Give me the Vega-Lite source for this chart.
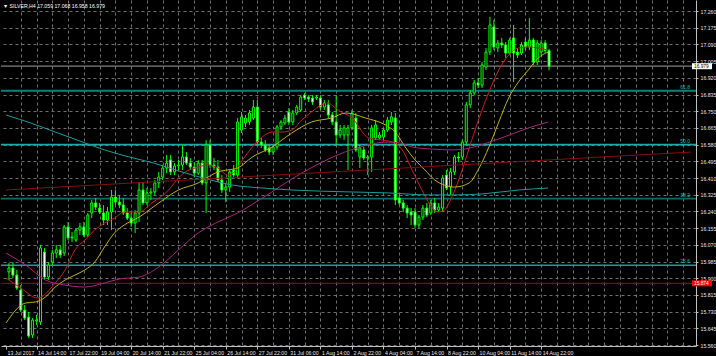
{
  "$schema": "https://vega.github.io/schema/vega-lite/v6.json",
  "width": 695,
  "height": 346,
  "padding": 0,
  "background": "#000000",
  "config": {"view": {"stroke": null}, "font": "Liberation Sans"},
  "title": {"text": "▼ SILVER,H4  17.059 17.068 16.958 16.979", "anchor": "start", "offset": -9, "fontSize": 5.2, "color": "#ffffff", "fontWeight": "normal", "dx": 3},
  "datasets": {
    "candles": [
      {"i":0,"o":15.932,"h":15.977,"l":15.891,"c":15.952},
      {"i":1,"o":15.952,"h":15.982,"l":15.901,"c":15.916},
      {"i":2,"o":15.916,"h":15.942,"l":15.840,"c":15.850},
      {"i":3,"o":15.840,"h":15.865,"l":15.728,"c":15.738},
      {"i":4,"o":15.738,"h":15.764,"l":15.687,"c":15.697},
      {"i":5,"o":15.702,"h":15.728,"l":15.596,"c":15.606},
      {"i":6,"o":15.611,"h":15.697,"l":15.596,"c":15.687},
      {"i":7,"o":15.682,"h":15.713,"l":15.662,"c":15.687},
      {"i":8,"o":15.677,"h":16.069,"l":15.662,"c":16.054},
      {"i":9,"o":16.033,"h":16.054,"l":15.891,"c":15.906},
      {"i":10,"o":15.906,"h":15.982,"l":15.891,"c":15.967},
      {"i":11,"o":15.982,"h":16.044,"l":15.967,"c":16.028},
      {"i":12,"o":16.028,"h":16.069,"l":16.003,"c":16.044},
      {"i":13,"o":16.044,"h":16.069,"l":16.003,"c":16.018},
      {"i":14,"o":16.028,"h":16.171,"l":16.013,"c":16.161},
      {"i":15,"o":16.161,"h":16.186,"l":16.094,"c":16.105},
      {"i":16,"o":16.105,"h":16.135,"l":16.084,"c":16.110},
      {"i":17,"o":16.094,"h":16.155,"l":16.084,"c":16.145},
      {"i":18,"o":16.145,"h":16.181,"l":16.120,"c":16.161},
      {"i":19,"o":16.161,"h":16.186,"l":16.110,"c":16.120},
      {"i":20,"o":16.120,"h":16.232,"l":16.110,"c":16.222},
      {"i":21,"o":16.232,"h":16.298,"l":16.206,"c":16.283},
      {"i":22,"o":16.283,"h":16.308,"l":16.247,"c":16.262},
      {"i":23,"o":16.257,"h":16.283,"l":16.227,"c":16.237},
      {"i":24,"o":16.232,"h":16.273,"l":16.171,"c":16.196},
      {"i":25,"o":16.196,"h":16.262,"l":16.171,"c":16.237},
      {"i":26,"o":16.237,"h":16.349,"l":16.145,"c":16.313},
      {"i":27,"o":16.313,"h":16.349,"l":16.273,"c":16.288},
      {"i":28,"o":16.288,"h":16.324,"l":16.257,"c":16.273},
      {"i":29,"o":16.273,"h":16.308,"l":16.222,"c":16.232},
      {"i":30,"o":16.232,"h":16.257,"l":16.196,"c":16.206},
      {"i":31,"o":16.206,"h":16.232,"l":16.161,"c":16.181},
      {"i":32,"o":16.181,"h":16.247,"l":16.130,"c":16.232},
      {"i":33,"o":16.232,"h":16.390,"l":16.186,"c":16.349},
      {"i":34,"o":16.349,"h":16.390,"l":16.273,"c":16.283},
      {"i":35,"o":16.283,"h":16.359,"l":16.273,"c":16.334},
      {"i":36,"o":16.334,"h":16.359,"l":16.298,"c":16.339},
      {"i":37,"o":16.339,"h":16.400,"l":16.324,"c":16.385},
      {"i":38,"o":16.385,"h":16.441,"l":16.359,"c":16.415},
      {"i":39,"o":16.415,"h":16.476,"l":16.400,"c":16.461},
      {"i":40,"o":16.461,"h":16.527,"l":16.435,"c":16.486},
      {"i":41,"o":16.502,"h":16.527,"l":16.425,"c":16.441},
      {"i":42,"o":16.441,"h":16.486,"l":16.425,"c":16.471},
      {"i":43,"o":16.471,"h":16.502,"l":16.451,"c":16.476},
      {"i":44,"o":16.476,"h":16.578,"l":16.451,"c":16.517},
      {"i":45,"o":16.517,"h":16.542,"l":16.476,"c":16.486},
      {"i":46,"o":16.486,"h":16.512,"l":16.451,"c":16.466},
      {"i":47,"o":16.466,"h":16.491,"l":16.415,"c":16.435},
      {"i":48,"o":16.435,"h":16.502,"l":16.425,"c":16.486},
      {"i":49,"o":16.486,"h":16.502,"l":16.374,"c":16.385},
      {"i":50,"o":16.385,"h":16.603,"l":16.232,"c":16.578},
      {"i":51,"o":16.578,"h":16.603,"l":16.461,"c":16.476},
      {"i":52,"o":16.476,"h":16.512,"l":16.451,"c":16.466},
      {"i":53,"o":16.466,"h":16.502,"l":16.390,"c":16.400},
      {"i":54,"o":16.400,"h":16.425,"l":16.334,"c":16.349},
      {"i":55,"o":16.349,"h":16.385,"l":16.288,"c":16.364},
      {"i":56,"o":16.364,"h":16.451,"l":16.339,"c":16.441},
      {"i":57,"o":16.451,"h":16.476,"l":16.415,"c":16.425},
      {"i":58,"o":16.425,"h":16.715,"l":16.410,"c":16.695},
      {"i":59,"o":16.654,"h":16.746,"l":16.639,"c":16.721},
      {"i":60,"o":16.690,"h":16.731,"l":16.670,"c":16.715},
      {"i":61,"o":16.695,"h":16.756,"l":16.680,"c":16.741},
      {"i":62,"o":16.715,"h":16.807,"l":16.705,"c":16.771},
      {"i":63,"o":16.771,"h":16.807,"l":16.578,"c":16.593},
      {"i":64,"o":16.593,"h":16.614,"l":16.563,"c":16.578},
      {"i":65,"o":16.578,"h":16.603,"l":16.542,"c":16.553},
      {"i":66,"o":16.563,"h":16.578,"l":16.527,"c":16.542},
      {"i":67,"o":16.542,"h":16.578,"l":16.527,"c":16.568},
      {"i":68,"o":16.568,"h":16.680,"l":16.553,"c":16.670},
      {"i":69,"o":16.670,"h":16.705,"l":16.654,"c":16.695},
      {"i":70,"o":16.690,"h":16.731,"l":16.680,"c":16.715},
      {"i":71,"o":16.746,"h":16.766,"l":16.680,"c":16.695},
      {"i":72,"o":16.695,"h":16.756,"l":16.680,"c":16.741},
      {"i":73,"o":16.741,"h":16.782,"l":16.731,"c":16.771},
      {"i":74,"o":16.756,"h":16.832,"l":16.746,"c":16.822},
      {"i":75,"o":16.832,"h":16.843,"l":16.807,"c":16.817},
      {"i":76,"o":16.822,"h":16.832,"l":16.797,"c":16.812},
      {"i":77,"o":16.817,"h":16.832,"l":16.782,"c":16.797},
      {"i":78,"o":16.817,"h":16.832,"l":16.807,"c":16.822},
      {"i":79,"o":16.817,"h":16.832,"l":16.756,"c":16.771},
      {"i":80,"o":16.771,"h":16.807,"l":16.756,"c":16.792},
      {"i":81,"o":16.782,"h":16.807,"l":16.715,"c":16.731},
      {"i":82,"o":16.731,"h":16.746,"l":16.680,"c":16.695},
      {"i":83,"o":16.695,"h":16.832,"l":16.578,"c":16.629},
      {"i":84,"o":16.629,"h":16.680,"l":16.614,"c":16.654},
      {"i":85,"o":16.629,"h":16.680,"l":16.603,"c":16.665},
      {"i":86,"o":16.629,"h":16.680,"l":16.451,"c":16.665},
      {"i":87,"o":16.665,"h":16.756,"l":16.654,"c":16.741},
      {"i":88,"o":16.715,"h":16.741,"l":16.542,"c":16.553},
      {"i":89,"o":16.517,"h":16.578,"l":16.461,"c":16.563},
      {"i":90,"o":16.553,"h":16.568,"l":16.502,"c":16.512},
      {"i":91,"o":16.512,"h":16.527,"l":16.425,"c":16.517},
      {"i":92,"o":16.517,"h":16.680,"l":16.441,"c":16.665},
      {"i":93,"o":16.614,"h":16.705,"l":16.603,"c":16.680},
      {"i":94,"o":16.614,"h":16.644,"l":16.603,"c":16.629},
      {"i":95,"o":16.619,"h":16.665,"l":16.603,"c":16.654},
      {"i":96,"o":16.654,"h":16.721,"l":16.644,"c":16.705},
      {"i":97,"o":16.695,"h":16.746,"l":16.680,"c":16.721},
      {"i":98,"o":16.715,"h":16.741,"l":16.273,"c":16.298},
      {"i":99,"o":16.308,"h":16.324,"l":16.273,"c":16.283},
      {"i":100,"o":16.283,"h":16.298,"l":16.237,"c":16.257},
      {"i":101,"o":16.257,"h":16.273,"l":16.206,"c":16.232},
      {"i":102,"o":16.237,"h":16.257,"l":16.171,"c":16.222},
      {"i":103,"o":16.237,"h":16.257,"l":16.155,"c":16.171},
      {"i":104,"o":16.171,"h":16.222,"l":16.155,"c":16.211},
      {"i":105,"o":16.211,"h":16.273,"l":16.196,"c":16.257},
      {"i":106,"o":16.257,"h":16.283,"l":16.211,"c":16.222},
      {"i":107,"o":16.232,"h":16.298,"l":16.222,"c":16.283},
      {"i":108,"o":16.283,"h":16.308,"l":16.232,"c":16.247},
      {"i":109,"o":16.247,"h":16.283,"l":16.237,"c":16.262},
      {"i":110,"o":16.257,"h":16.425,"l":16.237,"c":16.410},
      {"i":111,"o":16.425,"h":16.451,"l":16.349,"c":16.359},
      {"i":112,"o":16.364,"h":16.461,"l":16.324,"c":16.441},
      {"i":113,"o":16.441,"h":16.527,"l":16.425,"c":16.517},
      {"i":114,"o":16.517,"h":16.542,"l":16.491,"c":16.512},
      {"i":115,"o":16.517,"h":16.603,"l":16.502,"c":16.593},
      {"i":116,"o":16.593,"h":16.797,"l":16.578,"c":16.782},
      {"i":117,"o":16.782,"h":16.858,"l":16.766,"c":16.843},
      {"i":118,"o":16.843,"h":16.909,"l":16.832,"c":16.894},
      {"i":119,"o":16.894,"h":16.919,"l":16.868,"c":16.883},
      {"i":120,"o":16.883,"h":17.000,"l":16.868,"c":16.985},
      {"i":121,"o":16.975,"h":17.072,"l":16.960,"c":17.051},
      {"i":122,"o":17.051,"h":17.230,"l":17.036,"c":17.189},
      {"i":123,"o":17.179,"h":17.214,"l":17.061,"c":17.077},
      {"i":124,"o":17.072,"h":17.112,"l":17.051,"c":17.097},
      {"i":125,"o":17.097,"h":17.123,"l":17.072,"c":17.087},
      {"i":126,"o":17.087,"h":17.102,"l":17.021,"c":17.046},
      {"i":127,"o":17.046,"h":17.123,"l":17.036,"c":17.112},
      {"i":128,"o":17.123,"h":17.189,"l":16.899,"c":17.046},
      {"i":129,"o":17.051,"h":17.072,"l":17.021,"c":17.036},
      {"i":130,"o":17.046,"h":17.102,"l":17.036,"c":17.087},
      {"i":131,"o":17.102,"h":17.123,"l":17.061,"c":17.077},
      {"i":132,"o":17.077,"h":17.224,"l":17.061,"c":17.112},
      {"i":133,"o":17.112,"h":17.123,"l":16.985,"c":17.000},
      {"i":134,"o":17.000,"h":17.112,"l":16.985,"c":17.097},
      {"i":135,"o":17.051,"h":17.112,"l":17.036,"c":17.097},
      {"i":136,"o":17.097,"h":17.112,"l":17.046,"c":17.059},
      {"i":137,"o":17.059,"h":17.068,"l":16.958,"c":16.979}
    ],
    "ma": [
      {"s":"fast","i":-0.75,"v":15.901},{"s":"fast","i":3,"v":15.850},{"s":"fast","i":7.25,"v":15.799},{"s":"fast","i":11.75,"v":15.876},
      {"s":"fast","i":14.25,"v":15.942},{"s":"fast","i":16.75,"v":16.044},{"s":"fast","i":19.25,"v":16.094},{"s":"fast","i":21.75,"v":16.145},
      {"s":"fast","i":24.25,"v":16.181},{"s":"fast","i":26.75,"v":16.206},{"s":"fast","i":29.25,"v":16.237},{"s":"fast","i":33,"v":16.237},
      {"s":"fast","i":36.25,"v":16.283},{"s":"fast","i":40.5,"v":16.349},{"s":"fast","i":43,"v":16.410},{"s":"fast","i":44.75,"v":16.441},
      {"s":"fast","i":47.25,"v":16.461},{"s":"fast","i":50.5,"v":16.476},{"s":"fast","i":53,"v":16.461},{"s":"fast","i":55.5,"v":16.425},
      {"s":"fast","i":57.25,"v":16.441},{"s":"fast","i":59.25,"v":16.502},{"s":"fast","i":61.75,"v":16.568},{"s":"fast","i":64.25,"v":16.619},
      {"s":"fast","i":66.75,"v":16.644},{"s":"fast","i":69.25,"v":16.644},{"s":"fast","i":71.75,"v":16.654},{"s":"fast","i":74.25,"v":16.705},
      {"s":"fast","i":76.75,"v":16.746},{"s":"fast","i":79.25,"v":16.782},{"s":"fast","i":81,"v":16.792},{"s":"fast","i":82.5,"v":16.771},
      {"s":"fast","i":84.25,"v":16.746},{"s":"fast","i":86.75,"v":16.721},{"s":"fast","i":91.25,"v":16.614},{"s":"fast","i":94.75,"v":16.603},
      {"s":"fast","i":97.25,"v":16.593},{"s":"fast","i":99.75,"v":16.553},{"s":"fast","i":102.25,"v":16.451},{"s":"fast","i":104.75,"v":16.349},
      {"s":"fast","i":107.25,"v":16.262},{"s":"fast","i":108.75,"v":16.237},{"s":"fast","i":110.5,"v":16.247},{"s":"fast","i":111.75,"v":16.288},
      {"s":"fast","i":114.25,"v":16.410},{"s":"fast","i":116.75,"v":16.563},{"s":"fast","i":119.25,"v":16.715},{"s":"fast","i":121.75,"v":16.848},
      {"s":"fast","i":124.25,"v":16.960},{"s":"fast","i":126.75,"v":17.036},{"s":"fast","i":129.25,"v":17.072},{"s":"fast","i":131.75,"v":17.077},
      {"s":"fast","i":134.25,"v":17.072},{"s":"fast","i":136.75,"v":17.061},

      {"s":"medium","i":-0.75,"v":15.672},{"s":"medium","i":4.25,"v":15.774},{"s":"medium","i":6.75,"v":15.779},{"s":"medium","i":9.25,"v":15.804},
      {"s":"medium","i":11.75,"v":15.855},{"s":"medium","i":14.25,"v":15.891},{"s":"medium","i":16.75,"v":15.916},{"s":"medium","i":19.25,"v":15.942},
      {"s":"medium","i":21.75,"v":15.982},{"s":"medium","i":24.25,"v":16.059},{"s":"medium","i":26.75,"v":16.130},{"s":"medium","i":29.25,"v":16.171},
      {"s":"medium","i":33,"v":16.211},{"s":"medium","i":38,"v":16.283},{"s":"medium","i":43,"v":16.349},{"s":"medium","i":48,"v":16.385},
      {"s":"medium","i":50.5,"v":16.415},{"s":"medium","i":53,"v":16.441},{"s":"medium","i":55.5,"v":16.451},{"s":"medium","i":58,"v":16.461},
      {"s":"medium","i":61.75,"v":16.517},{"s":"medium","i":66.75,"v":16.568},{"s":"medium","i":71.75,"v":16.639},{"s":"medium","i":76.75,"v":16.695},
      {"s":"medium","i":81.75,"v":16.715},{"s":"medium","i":85.5,"v":16.741},{"s":"medium","i":90.5,"v":16.715},{"s":"medium","i":95.5,"v":16.680},
      {"s":"medium","i":98,"v":16.644},{"s":"medium","i":100.5,"v":16.568},{"s":"medium","i":103,"v":16.502},{"s":"medium","i":105.5,"v":16.451},
      {"s":"medium","i":108,"v":16.400},{"s":"medium","i":110.5,"v":16.374},{"s":"medium","i":113,"v":16.364},{"s":"medium","i":116.75,"v":16.385},
      {"s":"medium","i":119.25,"v":16.461},{"s":"medium","i":121.75,"v":16.568},{"s":"medium","i":124.25,"v":16.695},{"s":"medium","i":126.75,"v":16.817},
      {"s":"medium","i":129.25,"v":16.899},{"s":"medium","i":131.75,"v":16.960},{"s":"medium","i":134.25,"v":17.021},{"s":"medium","i":136.75,"v":17.051},

      {"s":"slow","i":-0.75,"v":16.028},{"s":"slow","i":4.25,"v":15.967},{"s":"slow","i":9.25,"v":15.891},{"s":"slow","i":14.25,"v":15.865},
      {"s":"slow","i":19.25,"v":15.855},{"s":"slow","i":24.25,"v":15.876},{"s":"slow","i":28,"v":15.896},{"s":"slow","i":33,"v":15.906},
      {"s":"slow","i":38,"v":15.957},{"s":"slow","i":43,"v":16.044},{"s":"slow","i":48,"v":16.130},{"s":"slow","i":53,"v":16.186},
      {"s":"slow","i":58,"v":16.232},{"s":"slow","i":64.25,"v":16.308},{"s":"slow","i":74.25,"v":16.435},{"s":"slow","i":86.75,"v":16.553},
      {"s":"slow","i":96.25,"v":16.593},{"s":"slow","i":99.25,"v":16.588},{"s":"slow","i":102.25,"v":16.568},{"s":"slow","i":106.75,"v":16.558},
      {"s":"slow","i":113,"v":16.553},{"s":"slow","i":124.25,"v":16.609},{"s":"slow","i":131.75,"v":16.665},{"s":"slow","i":136.75,"v":16.695},

      {"s":"long","i":-0.75,"v":16.731},{"s":"long","i":5.5,"v":16.690},{"s":"long","i":11.75,"v":16.644},{"s":"long","i":18,"v":16.598},
      {"s":"long","i":24.25,"v":16.553},{"s":"long","i":30.5,"v":16.517},{"s":"long","i":36.75,"v":16.486},{"s":"long","i":43,"v":16.446},
      {"s":"long","i":49.25,"v":16.410},{"s":"long","i":56.75,"v":16.374},{"s":"long","i":64.25,"v":16.359},{"s":"long","i":71.75,"v":16.349},
      {"s":"long","i":86.75,"v":16.339},{"s":"long","i":96.25,"v":16.334},{"s":"long","i":106.25,"v":16.324},{"s":"long","i":113,"v":16.324},
      {"s":"long","i":120,"v":16.329},{"s":"long","i":129.25,"v":16.349},{"s":"long","i":136.75,"v":16.359},

      {"s":"trend","i":-0.75,"v":16.349},{"s":"trend","i":173,"v":16.542}
    ],
    "levels": [
      {"name":"61.8","v":16.854},
      {"name":"50.0","v":16.5795},
      {"name":"38.2","v":16.305},
      {"name":"23.6","v":15.966},
      {"name":"bid","v":16.979},
      {"name":"alert","v":15.874}
    ],
    "tags": [
      {"k":"bid","v":16.979,"t":"16.979"},
      {"k":"alert","v":15.874,"t":"15.874"}
    ]
  },
  "resolve": {"scale": {"color": "independent", "strokeWidth": "independent"}},
  "layer": [
    {
      "data": {"name": "levels"},
      "mark": {"type": "rule"},
      "encoding": {
        "y": {
          "field": "v", "type": "quantitative", "title": null,
          "scale": {"domain": [15.555, 17.316], "zero": false, "nice": false},
          "axis": {
            "orient": "right", "title": null, "tickCount": 500,
            "values": [17.26, 17.175, 17.09, 17.005, 16.92, 16.835, 16.75, 16.665, 16.58, 16.495, 16.41, 16.325, 16.24, 16.155, 16.07, 15.985, 15.9, 15.815, 15.73, 15.645, 15.56],
            "format": ".3f", "labelColor": "#e6e6e6", "labelFontSize": 5.2, "labelPadding": 2,
            "labelAlign": "left", "labelBaseline": "middle", "labelOverlap": false, "labelFlush": false, "labelBound": false,
            "tickSize": 2, "tickColor": "#c0c0c0", "domainColor": "#c0c0c0",
            "grid": true, "gridColor": "#6e6e6e", "gridDash": [3, 3], "gridWidth": 1
          }
        },
        "color": {"field": "name", "type": "nominal", "legend": null,
          "scale": {"domain": ["61.8", "50.0", "38.2", "23.6", "bid", "alert"], "range": ["#0f8080", "#1fa8a8", "#0c6a6a", "#1a9e9e", "#808080", "#b00000"]}},
        "strokeWidth": {"field": "name", "type": "nominal", "legend": null,
          "scale": {"domain": ["61.8", "50.0", "38.2", "23.6", "bid", "alert"], "range": [2, 1, 2, 1, 1, 1]}}
      }
    },
    {
      "data": {"name": "candles"},
      "mark": {"type": "rule", "color": "#00ff00", "strokeWidth": 1},
      "encoding": {
        "x": {
          "field": "i", "type": "quantitative", "title": null,
          "scale": {"domain": [-0.75, 173], "zero": false, "nice": false},
          "axis": {
            "orient": "bottom", "title": null, "tickCount": 500,
            "values": [-0.75, 3, 7, 11, 15, 19, 23, 27, 31, 35, 39, 43, 47, 51, 55, 59, 63, 67, 71, 75, 79, 83, 87, 91, 95, 99, 103, 107, 111, 115, 119, 123, 127, 131, 135, 139, 143, 147, 151, 155, 159, 163, 167, 171],
            "labelExpr": "datum.value < 0 ? '13 Jul 2017' : (((datum.value - 7) % 8 == 0) && datum.value <= 135) ? ['14 Jul 14:00','17 Jul 22:00','19 Jul 04:00','20 Jul 14:00','21 Jul 22:00','25 Jul 04:00','26 Jul 14:00','27 Jul 22:00','31 Jul 06:00','1 Aug 14:00','2 Aug 22:00','4 Aug 04:00','7 Aug 14:00','8 Aug 22:00','10 Aug 04:00','11 Aug 14:00','14 Aug 22:00'][(datum.value - 7) / 8] : ''",
            "labelColor": "#e6e6e6", "labelFontSize": 5.2, "labelAlign": "left", "labelBaseline": "top",
            "labelPadding": 1, "labelOffset": 1, "labelOverlap": false, "labelFlush": false, "labelBound": false,
            "tickSize": 3, "tickColor": "#c0c0c0",
            "tickOpacity": {"condition": {"test": "datum.value < 0 || (((datum.value - 7) % 8 == 0) && datum.value <= 135)", "value": 1}, "value": 0},
            "domainColor": "#c0c0c0",
            "grid": true, "gridColor": "#6e6e6e", "gridDash": [3, 3], "gridWidth": 1,
            "gridOpacity": {"condition": {"test": "datum.value < 0", "value": 0}, "value": 1}
          }
        },
        "y": {"field": "l", "type": "quantitative", "title": null},
        "y2": {"field": "h"}
      }
    },
    {
      "data": {"name": "candles"},
      "mark": {"type": "bar", "size": 2, "stroke": "#00ff00", "strokeWidth": 1},
      "encoding": {
        "x": {"field": "i", "type": "quantitative", "title": null},
        "y": {"field": "o", "type": "quantitative", "title": null},
        "y2": {"field": "c"},
        "fill": {"condition": {"test": "datum.c < datum.o", "value": "#ffffff"}, "value": "#000000"}
      }
    },
    {
      "data": {"name": "ma"},
      "mark": {"type": "line", "interpolate": "monotone", "clip": true},
      "encoding": {
        "x": {"field": "i", "type": "quantitative", "title": null},
        "y": {"field": "v", "type": "quantitative", "title": null},
        "detail": {"field": "s"},
        "color": {"field": "s", "type": "nominal", "legend": null,
          "scale": {"domain": ["fast", "medium", "slow", "long", "trend"], "range": ["#c81e1e", "#bdb21a", "#a3287c", "#1c9c9c", "#8a0c0c"]}},
        "strokeWidth": {"field": "s", "type": "nominal", "legend": null,
          "scale": {"domain": ["fast", "medium", "slow", "long", "trend"], "range": [1, 1, 1, 1, 2]}}
      }
    },
    {
      "data": {"name": "levels"},
      "transform": [{"filter": "datum.name != 'bid' && datum.name != 'alert'"}],
      "mark": {"type": "text", "align": "right", "baseline": "bottom", "dx": -1, "dy": -1, "fontSize": 5, "color": "#22b4b4", "clip": false},
      "encoding": {
        "x": {"datum": 173, "type": "quantitative", "title": null},
        "y": {"field": "v", "type": "quantitative", "title": null},
        "text": {"field": "name"}
      }
    },
    {
      "data": {"name": "tags"},
      "mark": {"type": "tick", "orient": "horizontal", "size": 20, "thickness": 6, "xOffset": 11, "opacity": 1, "clip": false},
      "encoding": {
        "x": {"datum": 173, "type": "quantitative", "title": null},
        "y": {"field": "v", "type": "quantitative", "title": null},
        "color": {"condition": {"test": "datum.k == 'bid'", "value": "#ffffff"}, "value": "#ff0000"}
      }
    },
    {
      "data": {"name": "tags"},
      "mark": {"type": "text", "align": "left", "baseline": "middle", "dx": 3, "dy": 0.5, "fontSize": 4.8, "clip": false},
      "encoding": {
        "x": {"datum": 173, "type": "quantitative", "title": null},
        "y": {"field": "v", "type": "quantitative", "title": null},
        "text": {"field": "t"},
        "color": {"condition": {"test": "datum.k == 'bid'", "value": "#000000"}, "value": "#ffffff"}
      }
    }
  ]
}
